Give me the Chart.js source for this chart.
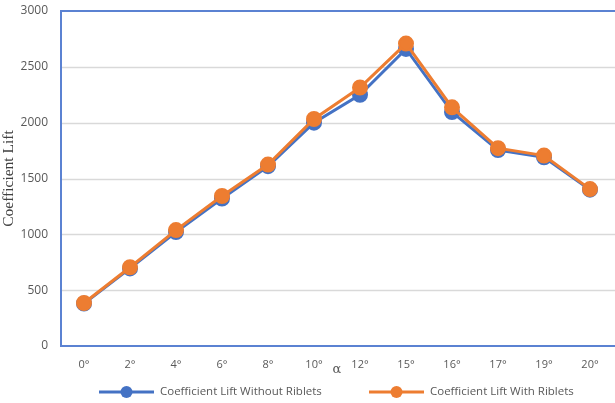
<!DOCTYPE html>
<html>
<head>
<meta charset="utf-8">
<script src="https://cdn.jsdelivr.net/npm/chart.js@4/dist/chart.umd.min.js"></script>
<style>
  html, body { margin: 0; padding: 0; background: #fff; }
  #wrap { width: 615px; height: 403px; }
</style>
</head>
<body>
<div id="wrap"><canvas id="lift" width="615" height="403"></canvas></div>
<script>
var angles = ['0°', '2°', '4°', '6°', '8°', '10°', '12°', '15°', '16°', '17°', '19°', '20°']
var liftWithout = [380, 695, 1020, 1320, 1610, 2000, 2250, 2660, 2095, 1755, 1690, 1400]
var liftWith = [385, 705, 1038, 1343, 1625, 2033, 2315, 2708, 2137, 1772, 1705, 1405]
var yTicks = [0, 500, 1000, 1500, 2000, 2500, 3000]

var seriesNames = ['Coefficient Lift Without Riblets', 'Coefficient Lift With Riblets']
var blue = '#4472C4'
var orange = '#ED7D31'
var grey = '#595959'

// blue frame on left, top and bottom of the plot area
var framePlugin = {
  id: 'frame',
  afterDatasetsDraw: function (chart) {
    var a = chart.chartArea
    var ctx = chart.ctx
    ctx.save()
    ctx.strokeStyle = '#5B82D2'
    ctx.lineWidth = 2
    ctx.beginPath()
    ctx.moveTo(a.right + 2, a.top)
    ctx.lineTo(a.left, a.top)
    ctx.lineTo(a.left, a.bottom)
    ctx.lineTo(a.right + 2, a.bottom)
    ctx.stroke()
    ctx.restore()
  },
  beforeDatasetsDraw: function (chart) {
    // gridlines under the series
    var a = chart.chartArea
    var ctx = chart.ctx
    var y = chart.scales.y
    ctx.save()
    ctx.strokeStyle = '#D9D9D9'
    ctx.lineWidth = 1.5
    yTicks.forEach(function (v) {
      if (v === 0 || v === 3000) return
      var py = Math.round(y.getPixelForValue(v)) + 0.5
      ctx.beginPath()
      ctx.moveTo(a.left, py)
      ctx.lineTo(a.right + 2, py)
      ctx.stroke()
    })
    ctx.restore()
  }
}

// alpha under the axis and the line+marker legend at the bottom
var legendPlugin = {
  id: 'lineLegend',
  afterDraw: function (chart) {
    var a = chart.chartArea
    var ctx = chart.ctx
    ctx.save()
    ctx.fillStyle = grey
    ctx.font = '13px "DejaVu Serif"'
    ctx.textAlign = 'center'
    ctx.textBaseline = 'middle'
    ctx.fillText('α', (a.left + a.right) / 2, 370)

    ctx.font = '11.5px "Open Sans"'
    ctx.textAlign = 'left'
    var items = [
      { x: 99, color: blue, text: seriesNames[0] },
      { x: 369, color: orange, text: seriesNames[1] }
    ]
    var ly = 392
    items.forEach(function (it) {
      ctx.strokeStyle = it.color
      ctx.lineWidth = 3
      ctx.beginPath()
      ctx.moveTo(it.x, ly)
      ctx.lineTo(it.x + 55, ly)
      ctx.stroke()
      ctx.fillStyle = it.color
      ctx.beginPath()
      ctx.arc(it.x + 27.5, ly, 6, 0, Math.PI * 2)
      ctx.fill()
      ctx.fillStyle = grey
      ctx.fillText(it.text, it.x + 61, ly)
    })
    ctx.restore()
  }
}

new Chart(document.getElementById('lift'), {
  type: 'line',
  data: {
    labels: angles,
    datasets: [
      {
        label: seriesNames[0],
        data: liftWithout,
        borderColor: blue,
        backgroundColor: blue,
        borderWidth: 3,
        pointRadius: 7,
        pointBorderWidth: 2,
        pointBorderColor: blue,
        pointBackgroundColor: blue,
        tension: 0,
        order: 1
      },
      {
        label: seriesNames[1],
        data: liftWith,
        borderColor: orange,
        backgroundColor: orange,
        borderWidth: 3,
        pointRadius: 7,
        pointBorderWidth: 2,
        pointBorderColor: orange,
        pointBackgroundColor: orange,
        tension: 0,
        order: 0
      }
    ]
  },
  options: {
    responsive: false,
    animation: false,
    layout: { autoPadding: false, padding: { left: 0, top: 11, right: 2, bottom: 0 } },
    plugins: {
      legend: { display: false },
      tooltip: { enabled: false }
    },
    scales: {
      x: {
        offset: true,
        grid: { display: false, drawTicks: false },
        border: { display: false },
        ticks: { color: grey, font: { family: 'Open Sans', size: 11 }, padding: 12, maxRotation: 0, autoSkip: false },
        afterFit: function (scale) { scale.height = 57 }
      },
      y: {
        min: 0,
        max: 3000,
        afterBuildTicks: function (scale) {
          scale.ticks = yTicks.map(function (v) { return { value: v } })
        },
        grid: { display: false, drawTicks: false },
        border: { display: false },
        ticks: {
          color: grey,
          font: { family: 'Open Sans', size: 12 },
          padding: 13,
          callback: function (v) { return String(v) }
        },
        title: {
          display: true,
          text: 'Coefficient Lift',
          color: '#404040',
          font: { family: 'Liberation Serif', size: 15.5 },
          padding: { top: 0, bottom: 0 }
        },
        afterFit: function (scale) {
          scale.width = 61
          scale.paddingTop = 0
          scale.paddingBottom = 0
        }
      }
    }
  },
  plugins: [framePlugin, legendPlugin]
})
</script>
</body>
</html>
